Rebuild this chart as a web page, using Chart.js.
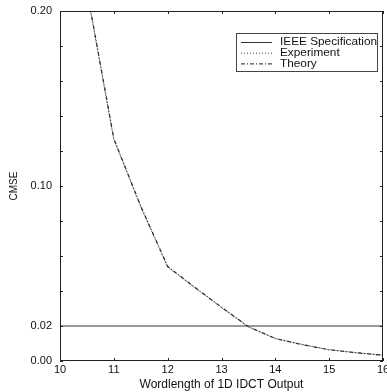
<!DOCTYPE html>
<html><head><meta charset="utf-8">
<script src="https://cdn.jsdelivr.net/npm/chart.js@4/dist/chart.umd.min.js"></script>
<style>html,body{margin:0;padding:0;background:#fff}#wrap{width:387px;height:392px}</style>
</head><body><div id="wrap"><canvas id="c" width="387" height="392"></canvas></div>
<script>
const wordlengths = [10.5, 11, 11.5, 12, 12.5, 13, 13.5, 14, 14.5, 15, 15.5, 16];
const experiment  = [0.211, 0.1265, 0.088, 0.0536, 0.042, 0.0305, 0.0195, 0.013, 0.0095, 0.0065, 0.0048, 0.0034];
const theory      = [0.212, 0.127, 0.0885, 0.054, 0.0422, 0.0307, 0.0196, 0.0128, 0.0093, 0.0064, 0.0047, 0.0033];
const specX = [10, 16];
const specY = [0.02, 0.02];
const xTicks = [10, 11, 12, 13, 14, 15, 16];
const yTicks = [0, 0.02, 0.04, 0.06, 0.08, 0.10, 0.12, 0.14, 0.16, 0.18, 0.20];
const yLabeled = ['0.00', '0.02', '0.10', '0.20'];
const labels = ['IEEE Specification', 'Experiment', 'Theory'];

const FONT = "'Liberation Sans', Arial, sans-serif";
const toPts = (xs, ys) => xs.map((x, i) => ({x, y: ys[i]}));

const framePlugin = {
  id: 'frame',
  afterDatasetsDraw(chart) {
    const {ctx, chartArea: a, scales} = chart;
    ctx.save();
    ctx.strokeStyle = '#222'; ctx.lineWidth = 1;
    ctx.strokeRect(a.left + 0.5, a.top + 0.5, a.right - a.left - 1, a.bottom - a.top - 1);
    ctx.beginPath();
    yTicks.forEach(v => {
      const y = Math.round(scales.y.getPixelForValue(v)) + 0.5;
      ctx.moveTo(a.left, y); ctx.lineTo(a.left + 3, y);
      ctx.moveTo(a.right, y); ctx.lineTo(a.right - 3, y);
    });
    xTicks.forEach(v => {
      const x = Math.round(scales.x.getPixelForValue(v)) + 0.5;
      ctx.moveTo(x, a.bottom); ctx.lineTo(x, a.bottom - 3);
      ctx.moveTo(x, a.top); ctx.lineTo(x, a.top + 3);
    });
    ctx.stroke();
    const bx = 236, by = 33, bw = 141, bh = 38;
    ctx.fillStyle = '#fff';
    ctx.fillRect(bx, by, bw, bh);
    ctx.strokeStyle = '#444';
    ctx.strokeRect(bx + 0.5, by + 0.5, bw, bh);
    ctx.font = '11.8px ' + FONT;
    ctx.textBaseline = 'middle';
    chart.data.datasets.forEach((ds, i) => {
      const y = by + 9 + i * 10.7;
      ctx.save();
      ctx.strokeStyle = ds.borderColor; ctx.lineWidth = 1;
      ctx.setLineDash(ds.borderDash || []);
      ctx.beginPath(); ctx.moveTo(bx + 5, y + 0.5); ctx.lineTo(bx + 36, y + 0.5); ctx.stroke();
      ctx.restore();
      ctx.fillStyle = '#111';
      ctx.fillText(ds.label, bx + 44, y);
    });
    ctx.restore();
  }
};

new Chart(document.getElementById('c'), {
  type: 'line',
  data: {
    datasets: [
      {label: labels[0], data: toPts(specX, specY), borderColor: '#333', borderWidth: 1, pointRadius: 0, borderDash: []},
      {label: labels[1], data: toPts(wordlengths, experiment), borderColor: '#444', borderWidth: 1, pointRadius: 0, borderDash: [1, 2]},
      {label: labels[2], data: toPts(wordlengths, theory), borderColor: '#222', borderWidth: 1.2, pointRadius: 0, borderDash: [4, 2, 1, 2]}
    ]
  },
  options: {
    responsive: false, animation: false,
    layout: {padding: {top: 11, right: 0, left: 0, bottom: 0}},
    plugins: {legend: {display: false}, tooltip: {enabled: false}},
    scales: {
      x: {
        type: 'linear', min: 10, max: 16,
        afterBuildTicks: s => { s.ticks = xTicks.map(v => ({value: v})); },
        afterFit: s => { s.height = 31; s.paddingRight = 4; s.paddingLeft = 0; },
        grid: {display: false, drawTicks: false},
        border: {display: false},
        ticks: {color: '#111', font: {family: FONT, size: 11}, padding: 2, maxRotation: 0, callback: v => String(v)},
        title: {display: true, text: 'Wordlength of 1D IDCT Output', color: '#111', font: {family: FONT, size: 12}, padding: {top: -3, bottom: 0}}
      },
      y: {
        type: 'linear', min: 0, max: 0.20,
        afterBuildTicks: s => { s.ticks = yTicks.map(v => ({value: v})); },
        afterFit: s => { s.width = 60; s.paddingTop = 0; s.paddingBottom = 0; },
        grid: {display: false, drawTicks: false},
        border: {display: false},
        ticks: {color: '#111', font: {family: FONT, size: 11}, padding: 8,
          callback: v => { const t = v.toFixed(2); return yLabeled.includes(t) ? t : ''; }},
        title: {display: true, text: 'CMSE', color: '#111', font: {family: FONT, size: 10}, padding: {top: 8, bottom: 0}}
      }
    }
  },
  plugins: [framePlugin]
});
</script></body></html>
